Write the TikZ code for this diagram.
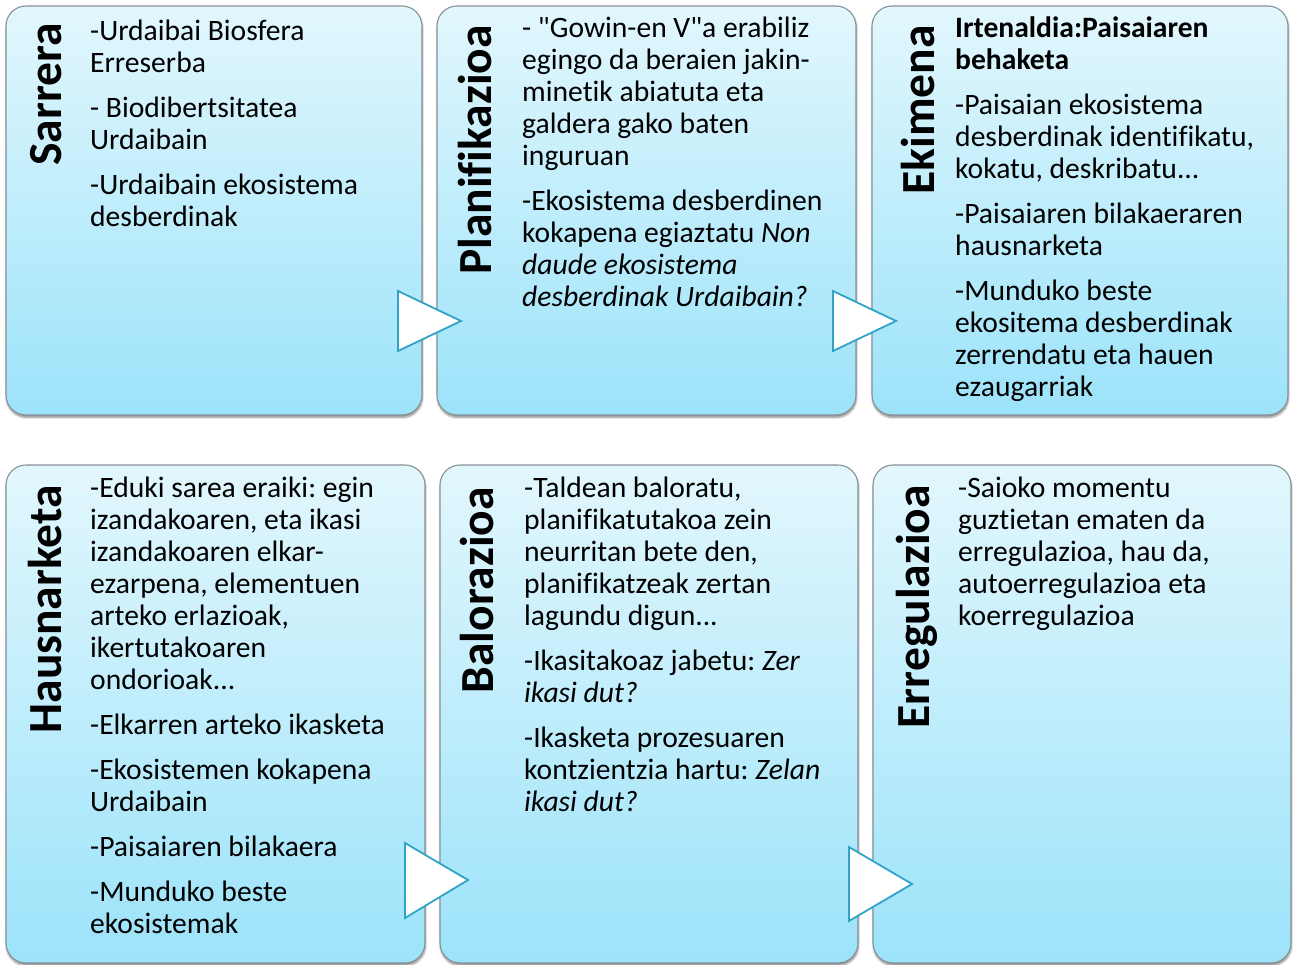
\documentclass[tikz,border=0pt]{standalone}
\usepackage{fontspec}
\setmainfont{Carlito}[Ligatures={NoCommon}]
\newfontfamily\plainfont{Carlito}[Ligatures={NoCommon}]
\usetikzlibrary{shadows.blur}
\frenchspacing
\definecolor{boxtop}{RGB}{226,247,253}
\definecolor{boxbot}{RGB}{156,227,250}
\definecolor{boxline}{RGB}{135,145,150}
\definecolor{tricol}{RGB}{48,163,198}
\tikzset{
  stagebox/.style={rectangle, rounded corners=20pt, draw=boxline, line width=1.1pt,
    top color=boxtop, bottom color=boxbot, inner sep=0pt,
    blur shadow={shadow xshift=0.5pt, shadow yshift=-2.5pt, shadow blur steps=6, shadow opacity=45}},
  stagelabel/.style={rotate=90, anchor=base east, inner sep=0pt, font=\plainfont\fontsize{47.5}{52}\selectfont\bfseries},
  bodytext/.style={anchor=base west, inner sep=0pt, font=\plainfont\fontsize{29.6}{32}\selectfont},
  arrowtri/.style={draw=tricol, fill=white, line width=1.8pt, line join=miter}
}
\begin{document}
\begin{tikzpicture}[x=1pt, y=-1pt]
\useasboundingbox (0,0) rectangle (1293,964);
% boxes
\node[stagebox, minimum width=416pt, minimum height=409pt] (b1) at (214,210.5) {};
\node[stagebox, minimum width=419pt, minimum height=409pt] (b2) at (646.5,210.5) {};
\node[stagebox, minimum width=416pt, minimum height=409pt] (b3) at (1080,210.5) {};
\node[stagebox, minimum width=419pt, minimum height=498pt] (b4) at (215.5,714) {};
\node[stagebox, minimum width=418pt, minimum height=498pt] (b5) at (649,714) {};
\node[stagebox, minimum width=418pt, minimum height=498pt] (b6) at (1082,714) {};
% labels
\node[stagelabel] (l1) at (61,23) {Sarrera};
\node[stagelabel] (l2) at (491,25) {Planifikazioa};
\node[stagelabel] (l3) at (934,25) {Ekimena};
\node[stagelabel] (l4) at (61,485) {Hausnarketa};
\node[stagelabel] (l5) at (493,487) {Balorazioa};
\node[stagelabel] (l6) at (929,485) {Erregulazioa};
% texts
\node[bodytext] (t1) at (90,40) {\parbox[t]{340pt}{\raggedright
-Urdaibai Biosfera\\
Erreserba\\[13pt]
- Biodibertsitatea\\
Urdaibain\\[13pt]
-Urdaibain ekosistema\\
desberdinak}};
\node[bodytext] (t2) at (522,37) {\parbox[t]{340pt}{\raggedright
- "Gowin-en V"a erabiliz\\
egingo da beraien jakin-\\
minetik abiatuta eta\\
galdera gako baten\\
inguruan\\[13pt]
-Ekosistema desberdinen\\
kokapena egiaztatu \textit{Non}\\
\textit{daude ekosistema}\\
\textit{desberdinak Urdaibain?}}};
\node[bodytext] (t3) at (955,37) {\parbox[t]{340pt}{\raggedright
\textbf{Irtenaldia:Paisaiaren}\\
\textbf{behaketa}\\[13pt]
-Paisaian ekosistema\\
desberdinak identifikatu,\\
kokatu, deskribatu...\\[13pt]
-Paisaiaren bilakaeraren\\
hausnarketa\\[13pt]
-Munduko beste\\
ekositema desberdinak\\
zerrendatu eta hauen\\
ezaugarriak}};
\node[bodytext] (t4) at (90,497) {\parbox[t]{340pt}{\raggedright
-Eduki sarea eraiki: egin\\
izandakoaren, eta ikasi\\
izandakoaren elkar-\\
ezarpena, elementuen\\
arteko erlazioak,\\
ikertutakoaren\\
ondorioak...\\[13pt]
-Elkarren arteko ikasketa\\[13pt]
-Ekosistemen kokapena\\
Urdaibain\\[13pt]
-Paisaiaren bilakaera\\[13pt]
-Munduko beste\\
ekosistemak}};
\node[bodytext] (t5) at (524,497) {\parbox[t]{340pt}{\raggedright
-Taldean baloratu,\\
planifikatutakoa zein\\
neurritan bete den,\\
planifikatzeak zertan\\
lagundu digun...\\[13pt]
-Ikasitakoaz jabetu: \textit{Zer}\\
\textit{ikasi dut?}\\[13pt]
-Ikasketa prozesuaren\\
kontzientzia hartu: \textit{Zelan}\\
\textit{ikasi dut?}}};
\node[bodytext] (t6) at (958,497) {\parbox[t]{340pt}{\raggedright
-Saioko momentu\\
guztietan ematen da\\
erregulazioa, hau da,\\
autoerregulazioa eta\\
koerregulazioa}};
% arrows
\draw[arrowtri] (398,291) -- (461,321) -- (398,351) -- cycle;
\draw[arrowtri] (833,291) -- (896,321) -- (833,351) -- cycle;
\draw[arrowtri] (405,843) -- (468,880) -- (405,918) -- cycle;
\draw[arrowtri] (849,847) -- (912,884) -- (849,921) -- cycle;
\end{tikzpicture}
\end{document}
